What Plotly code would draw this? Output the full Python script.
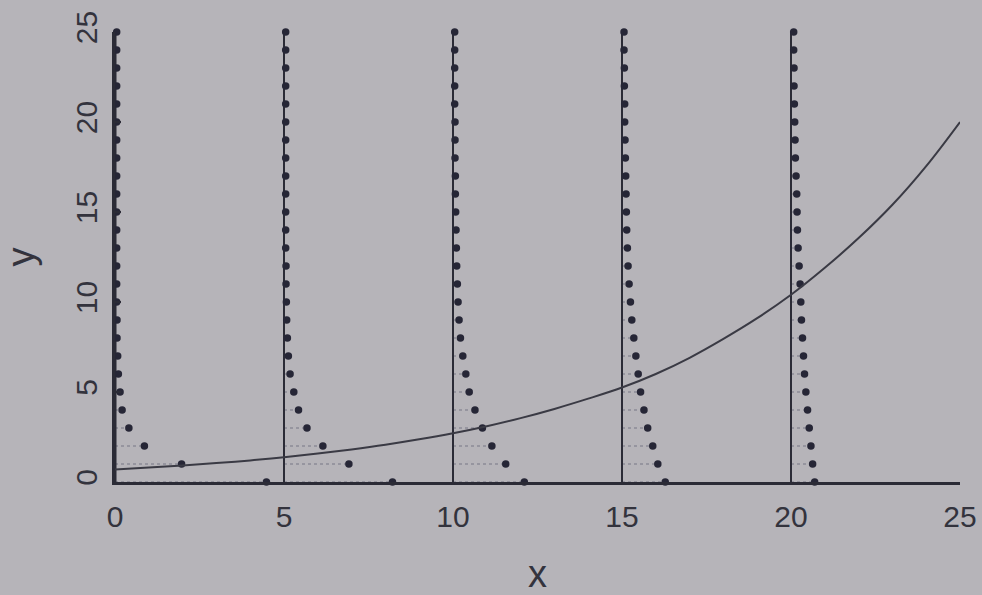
import plotly.graph_objects as go

# ---- data ----
y_levels = list(range(0, 26))
profile_x = [0, 5, 10, 15, 20]

offsets_x0 = [4.48, 1.97, 0.87, 0.41, 0.21, 0.15, 0.10, 0.08, 0.06, 0.06, 0.05, 0.05, 0.05,
              0.05, 0.05, 0.05, 0.05, 0.05, 0.05, 0.05, 0.05, 0.05, 0.05, 0.05, 0.05, 0.05]
offsets_x5 = [3.21, 1.92, 1.15, 0.68, 0.43, 0.29, 0.18, 0.13, 0.10, 0.08, 0.07, 0.06, 0.06,
              0.05, 0.05, 0.05, 0.05, 0.05, 0.05, 0.05, 0.05, 0.05, 0.05, 0.05, 0.05, 0.05]
offsets_x10 = [2.11, 1.56, 1.15, 0.87, 0.65, 0.48, 0.38, 0.29, 0.22, 0.18, 0.15, 0.13, 0.11,
               0.10, 0.09, 0.08, 0.07, 0.07, 0.06, 0.06, 0.06, 0.05, 0.05, 0.05, 0.05, 0.05]
offsets_x15 = [1.28, 1.06, 0.91, 0.76, 0.65, 0.55, 0.48, 0.41, 0.35, 0.29, 0.25, 0.21, 0.18,
               0.16, 0.14, 0.13, 0.12, 0.11, 0.10, 0.09, 0.08, 0.08, 0.07, 0.07, 0.06, 0.06]
offsets_x20 = [0.70, 0.64, 0.59, 0.54, 0.49, 0.44, 0.40, 0.37, 0.34, 0.31, 0.29, 0.27, 0.24,
               0.21, 0.19, 0.18, 0.17, 0.15, 0.13, 0.12, 0.11, 0.10, 0.09, 0.09, 0.08, 0.08]
profile_offsets = [offsets_x0, offsets_x5, offsets_x10, offsets_x15, offsets_x20]

curve_x = list(range(0, 26))
curve_y = [0.70, 0.80, 0.91, 1.05, 1.20, 1.38, 1.58, 1.81, 2.07, 2.37, 2.71, 3.10, 3.55,
           4.06, 4.63, 5.25, 6.00, 6.90, 7.95, 9.10, 10.40, 11.90, 13.55, 15.40, 17.55, 20.0]

tick_vals = [0, 5, 10, 15, 20, 25]

# ---- styles ----
BG = "#b6b4b9"
INK = "#2b2b36"
DOT = "#262636"
DOTLINE = "#8c8b96"
TXT = "#33333d"

fig = go.Figure()

for x0, offs in zip(profile_x, profile_offsets):
    hx, hy = [], []
    for yv, o in zip(y_levels, offs):
        hx += [x0, x0 + o, None]
        hy += [yv, yv, None]
    fig.add_trace(go.Scatter(x=hx, y=hy, mode="lines",
                             line=dict(color=DOTLINE, width=1.5, dash="dot"),
                             hoverinfo="skip", showlegend=False, cliponaxis=False))
    fig.add_trace(go.Scatter(x=[x0, x0], y=[y_levels[0], y_levels[-1]], mode="lines",
                             line=dict(color=INK, width=3 if x0 == 0 else 2),
                             showlegend=False, cliponaxis=False))
    fig.add_trace(go.Scatter(x=[x0 + o for o in offs], y=y_levels, mode="markers",
                             marker=dict(color=DOT, size=7.5),
                             showlegend=False, cliponaxis=False))

fig.add_trace(go.Scatter(x=curve_x, y=curve_y, mode="lines",
                         line=dict(color="#3a3a44", width=2, shape="spline"),
                         showlegend=False, cliponaxis=False))

font = dict(family="Liberation Sans, Arial, sans-serif", color=TXT)

fig.update_layout(
    width=982, height=595,
    paper_bgcolor=BG, plot_bgcolor=BG,
    margin=dict(l=115, r=22, t=32, b=113, autoexpand=False),
    font=font,
    showlegend=False,
    xaxis=dict(range=[0, 25], tickvals=tick_vals, ticks="inside", ticklen=8,
               tickwidth=2, tickcolor=INK, showline=True, linewidth=3, linecolor=INK,
               showgrid=False, zeroline=False, ticklabelstandoff=6,
               automargin=False, ticklabeloverflow="allow",
               tickfont=dict(size=30, color=TXT),
               title=dict(text="x", font=dict(size=38, color=TXT), standoff=35)),
    yaxis=dict(range=[0, 25], tickvals=tick_vals, ticks="inside", ticklen=6,
               tickwidth=2, tickcolor=INK, showline=True, linewidth=3, linecolor=INK,
               showgrid=False, zeroline=False, tickangle=-90, ticklabelstandoff=3,
               automargin=False, ticklabeloverflow="allow",
               tickfont=dict(size=30, color=TXT),
               title=dict(text="y", font=dict(size=38, color=TXT), standoff=25)),
)

fig.write_html("out.html", config={"displayModeBar": False},
               post_script="document.body.style.margin='0';document.body.style.background='" + BG + "';")
